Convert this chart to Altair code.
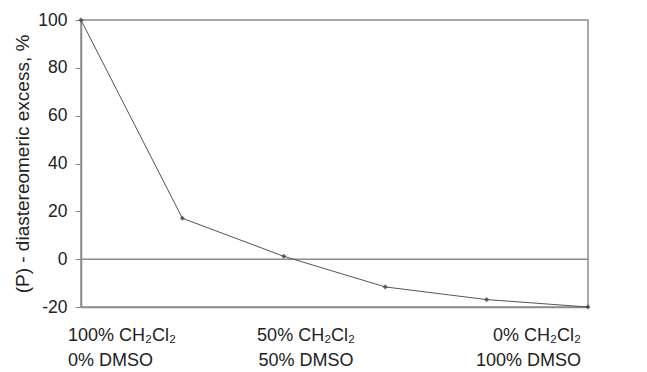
import altair as alt
import pandas as pd

# data
dmso_pct = [0, 20, 40, 60, 80, 100]
de_values = [100, 17.1, 1.2, -11.6, -16.9, -20]
label_text = ["100% CH\u2082Cl\u2082\n0% DMSO", "50% CH\u2082Cl\u2082\n50% DMSO", "0% CH\u2082Cl\u2082\n100% DMSO"]
label_x = [0, 44.4, 100]
y_ticks = [-20, 0, 20, 40, 60, 80, 100]

df = pd.DataFrame({"x": dmso_pct, "y": de_values})
lab = pd.DataFrame({"x": label_x, "t": label_text})

FONT = "Liberation Sans"
xs = alt.Scale(domain=[0, 100], nice=False, zero=False)
ys = alt.Scale(domain=[-20, 100], nice=False)

base = alt.Chart(df)

line = base.mark_line(color="#555555", strokeWidth=1).encode(
    x=alt.X("x:Q", scale=xs, axis=alt.Axis(labels=False, ticks=False, title=None, grid=False,
                                           domainColor="#8c8c8c", domainWidth=1.5)),
    y=alt.Y("y:Q", scale=ys, axis=alt.Axis(values=y_ticks, grid=False, title="(P) - diastereomeric excess, %",
                                           labelExpr="'' + datum.value",
                                           titleFont=FONT, titleFontSize=19, titleFontWeight="normal",
                                           titleColor="#222222", titlePadding=5,
                                           labelFont=FONT, labelFontSize=17.5, labelColor="#222222",
                                           tickColor="#8c8c8c", tickSize=6, domainColor="#8c8c8c",
                                           domainWidth=1.5, labelPadding=8)),
)

pts = base.mark_point(shape="diamond", filled=True, color="#333333", size=26).encode(
    x=alt.X("x:Q", scale=xs), y=alt.Y("y:Q", scale=ys)
)

zero = alt.Chart(pd.DataFrame({"z": [0]})).mark_rule(color="#8c8c8c", strokeWidth=1.5).encode(
    y=alt.Y("z:Q", scale=ys)
)

aligns = ["left", "center", "right"]
dxs = [-13, 0, -7]
texts = []
for i in range(3):
    texts.append(
        alt.Chart(lab.iloc[[i]]).mark_text(
            font=FONT, fontSize=18, color="#222222", align=aligns[i], baseline="alphabetic",
            lineBreak="\n", lineHeight=25, dx=dxs[i]
        ).encode(x=alt.X("x:Q", scale=xs), y=alt.value(321), text="t:N")
    )

chart = alt.layer(zero, line, pts, *texts).properties(
    width=507, height=287,
    autosize=alt.AutoSizeParams(type="none"),
    padding={"left": 73, "top": 12, "right": 51, "bottom": 65},
).configure_view(stroke="#8c8c8c", strokeWidth=1.5)

chart.save("out.html", embed_options={"renderer": "svg", "actions": False})
